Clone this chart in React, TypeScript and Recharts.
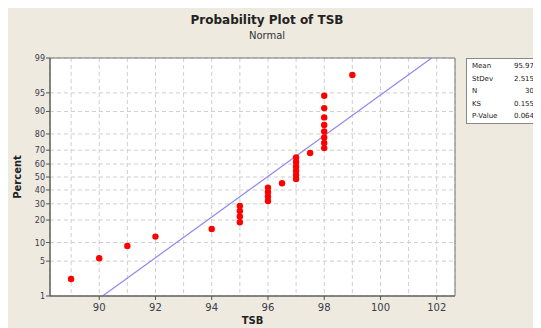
import React from "react";
import {
  ComposedChart,
  Scatter,
  Line,
  XAxis,
  YAxis,
  CartesianGrid,
  ReferenceArea,
} from "recharts";

const tsb = [
  89, 90, 91, 92, 94, 95, 95, 95, 95, 96, 96, 96, 96, 96.5, 97, 97, 97, 97, 97, 97,
  97.5, 98, 98, 98, 98, 98, 98, 98, 98, 99,
];
const pct = [
  2.3, 5.6, 8.9, 12.2, 15.5, 18.8, 22.0, 25.3, 28.6, 31.9, 35.2, 38.5, 41.8, 45.1, 48.4,
  51.6, 54.9, 58.2, 61.5, 64.8, 68.1, 71.4, 74.7, 78.0, 81.3, 84.5, 87.8, 91.1, 94.4, 97.7,
];
// fitted normal line end points (1% and 99%)
const fitX = [90.12, 101.82];
const fitPct = [1, 99];

const yTicks = [1, 5, 10, 20, 30, 40, 50, 60, 70, 80, 90, 95, 99];
const xTicks = [89, 90, 91, 92, 93, 94, 95, 96, 97, 98, 99, 100, 101, 102];

const statLabels = ["Mean", "StDev", "N", "KS", "P-Value"];
const statValues = ["95.97", "2.515", "30", "0.155", "0.064"];

// inverse normal cdf (Acklam) -> probability-paper scale
function probit(p: number) {
  const a = [-39.69683028665376, 220.9460984245205, -275.9285104469687, 138.357751867269, -30.66479806614716, 2.506628277459239];
  const b = [-54.47609879822406, 161.5858368580409, -155.6989798598866, 66.80131188771972, -13.28068155288572];
  const c = [-0.007784894002430293, -0.3223964580411365, -2.400758277161838, -2.549732539343734, 4.374664141464968, 2.938163982698783];
  const d = [0.007784695709041462, 0.3224671290700398, 2.445134137142996, 3.754408661907416];
  const pl = 0.02425;
  if (p < pl) {
    const q = Math.sqrt(-2 * Math.log(p));
    return (((((c[0] * q + c[1]) * q + c[2]) * q + c[3]) * q + c[4]) * q + c[5]) / ((((d[0] * q + d[1]) * q + d[2]) * q + d[3]) * q + 1);
  }
  if (p > 1 - pl) {
    const q = Math.sqrt(-2 * Math.log(1 - p));
    return -(((((c[0] * q + c[1]) * q + c[2]) * q + c[3]) * q + c[4]) * q + c[5]) / ((((d[0] * q + d[1]) * q + d[2]) * q + d[3]) * q + 1);
  }
  const q = p - 0.5;
  const r = q * q;
  return ((((((a[0] * r + a[1]) * r + a[2]) * r + a[3]) * r + a[4]) * r + a[5]) * q) / (((((b[0] * r + b[1]) * r + b[2]) * r + b[3]) * r + b[4]) * r + 1);
}

const z = (p: number) => probit(p / 100);
const points = tsb.map((x, i) => ({ x, z: z(pct[i]) }));
const fit = fitX.map((x, i) => ({ x, z: z(fitPct[i]) }));
const zTicks = yTicks.map(z);
const zMin = z(1);
const zMax = z(99);

const FONT = "Tahoma, 'DejaVu Sans', sans-serif";
const BG = "#EEEAE0";
const PLOT_BOTTOM = 288;
const PLOT_LEFT = 42;

function XTick({ x, payload }: any) {
  if (payload.value % 2 !== 0) return null;
  return (
    <g>
      <line x1={x} x2={x} y1={PLOT_BOTTOM} y2={PLOT_BOTTOM + 4} stroke="#555" />
      <text x={x} y={PLOT_BOTTOM + 15} textAnchor="middle" fontSize={10} fill="#3a3a4a" fontFamily={FONT}>
        {payload.value}
      </text>
    </g>
  );
}

function YTick({ y, payload }: any) {
  const idx = zTicks.findIndex((t) => Math.abs(t - payload.value) < 1e-6);
  return (
    <g>
      <line x1={PLOT_LEFT - 4} x2={PLOT_LEFT} y1={y} y2={y} stroke="#555" />
      <text x={PLOT_LEFT - 5} y={y + 3} textAnchor="end" fontSize={8} fill="#3a3a4a" fontFamily={FONT}>
        {yTicks[idx]}
      </text>
    </g>
  );
}

export default function App() {
  return (
    <div style={{ position: "relative", width: 533, height: 320, background: BG, overflow: "hidden", fontFamily: FONT }}>
      <div style={{ position: "absolute", left: 0, width: 518, top: 5, textAlign: "center", fontSize: 12, fontWeight: "bold", color: "#222" }}>
        Probability Plot of TSB
      </div>
      <div style={{ position: "absolute", left: 0, width: 518, top: 22, textAlign: "center", fontSize: 10, color: "#333" }}>
        Normal
      </div>
      <ComposedChart
        width={533}
        height={320}
        margin={{ top: 50, right: 86, bottom: 0, left: 0 }}
        style={{ position: "absolute", left: 0, top: 0 }}
      >
        <CartesianGrid fill="#ffffff" stroke="#cfcfcf" strokeDasharray="4 3" />
        <XAxis
          type="number"
          dataKey="x"
          domain={[88.25, 102.65]}
          ticks={xTicks}
          interval={0}
          tick={<XTick />}
          tickLine={false}
          axisLine={{ stroke: "#555" }}
          height={32}
          allowDataOverflow
        />
        <YAxis
          type="number"
          dataKey="z"
          domain={[zMin, zMax]}
          ticks={zTicks}
          interval={0}
          tick={<YTick />}
          tickLine={false}
          axisLine={{ stroke: "#555" }}
          width={42}
          allowDataOverflow
        />
        <ReferenceArea x1={88.25} x2={102.65} y1={zMin} y2={zMax} fill="none" stroke="#777" ifOverflow="extendDomain" />
        <Line data={fit} dataKey="z" stroke="#8a8af0" strokeWidth={1.2} dot={false} isAnimationActive={false} />
        <Scatter data={points} fill="#ff0000" shape={(p: any) => <circle cx={p.cx} cy={p.cy} r={3.2} fill="#ff0000" />} isAnimationActive={false} />
      </ComposedChart>
      <div style={{ position: "absolute", left: 1, top: 169, transform: "translate(-50%, -50%) rotate(-90deg)", transformOrigin: "center", marginLeft: 8, fontSize: 10, fontWeight: "bold", color: "#222" }}>
        Percent
      </div>
      <div style={{ position: "absolute", left: 0, width: 489, top: 307, textAlign: "center", fontSize: 10, fontWeight: "bold", color: "#222" }}>
        TSB
      </div>
      <div style={{ position: "absolute", left: 458, top: 50, width: 90, height: 66, background: "#fff", border: "1px solid #888", boxSizing: "border-box" }}>
        {statLabels.map((l, i) => (
          <div key={l} style={{ position: "absolute", left: 5, top: 3 + i * 12.6, fontSize: 7, color: "#222", lineHeight: "9px" }}>
            {l}
          </div>
        ))}
        {statValues.map((v, i) => (
          <div key={v} style={{ position: "absolute", right: 21, top: 3 + i * 12.6, fontSize: 7, color: "#222", lineHeight: "9px", textAlign: "right" }}>
            {v}
          </div>
        ))}
      </div>
    </div>
  );
}
